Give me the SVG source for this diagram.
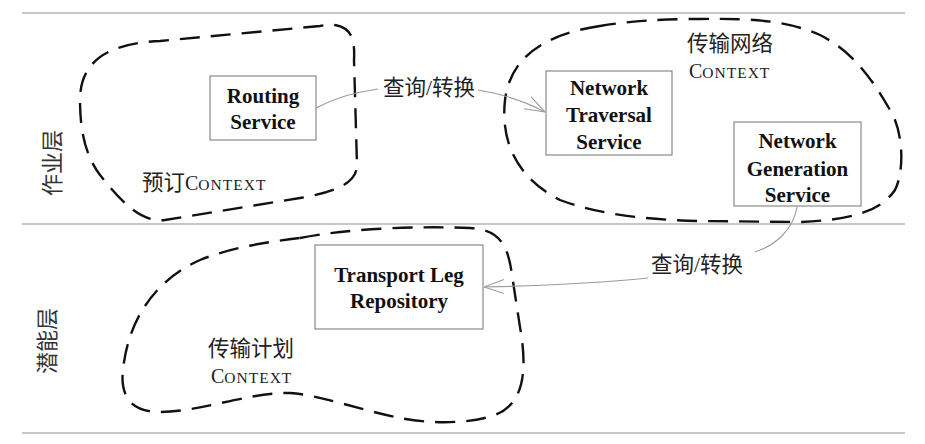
<svg xmlns="http://www.w3.org/2000/svg" width="925" height="444" viewBox="0 0 925 444">
<style>
.layer{stroke:#b5b5b5;stroke-width:1.5;fill:none}
.blob{fill:none;stroke:#111;stroke-width:2.4;stroke-dasharray:20 11;stroke-linecap:butt}
.box{fill:#fff;stroke:#8a8a8a;stroke-width:1.2}
.bt{font-family:"Liberation Serif",serif;font-weight:bold;font-size:21px;fill:#111;text-anchor:middle}
.cn{font-family:"Liberation Serif","Noto Sans CJK SC",serif;font-size:21.5px;fill:#222}
.ctx{font-family:"Liberation Serif",serif;fill:#222}
.lay{font-family:"Noto Sans CJK SC",sans-serif;font-size:22px;fill:#333;text-anchor:middle;dominant-baseline:central}
.conn{fill:none;stroke:#9a9a9a;stroke-width:1.1}
</style>
<defs>
<marker id="arr" viewBox="0 0 20 16" refX="20" refY="8" markerWidth="20" markerHeight="16" markerUnits="userSpaceOnUse" orient="auto">
<path d="M0,1 L20,8 L0,15" fill="none" stroke="#9a9a9a" stroke-width="1.1"/>
</marker>
</defs>
<g id="layers">
<line class="layer" x1="22" y1="13" x2="905" y2="13"/>
<line class="layer" x1="22" y1="224" x2="905" y2="224"/>
<line class="layer" x1="22" y1="433" x2="905" y2="433"/>
<text class="lay" transform="translate(50,163) rotate(-90)">作业层</text>
<text class="lay" transform="translate(45,341) rotate(-90)">潜能层</text>
</g>
<g id="ctx-booking">
<path class="blob" d="M335,25 C352,28 355,40 354,60 L357,165 C357,185 330,193 300,198 L165,220 C140,223 120,200 100,175 C85,155 80,130 80,100 C80,60 110,43 160,41 L320,26 C326,25 331,24 335,25 Z"/>
<text class="cn" x="142" y="190">预订<tspan class="ctx" font-size="20">C</tspan><tspan class="ctx" font-size="15.5" letter-spacing="1">ONTEXT</tspan></text>
</g>
<g id="ctx-network">
<path class="blob" d="M600,26 C540,35 510,60 505,100 C500,145 520,180 560,200 C600,215 650,220 700,221 L800,222 C850,220 880,212 895,190 C905,170 903,130 890,110 C870,75 850,50 820,35 C790,22 760,18 700,19 C660,19 630,21 600,26 Z"/>
<text class="cn" x="687" y="51">传输网络</text>
<text class="ctx" x="689" y="78"><tspan font-size="20">C</tspan><tspan font-size="15.5" letter-spacing="1">ONTEXT</tspan></text>
</g>
<g id="ctx-plan">
<path class="blob" d="M300,238 C350,228 420,226 470,228 C500,230 508,245 512,275 L522,340 C527,380 520,405 495,415 C470,424 430,424 400,418 C360,410 320,395 290,393 C250,392 200,412 160,412 C130,412 120,395 123,370 C128,320 155,280 200,260 C230,248 265,242 300,238 Z"/>
<text class="cn" x="208" y="356">传输计划</text>
<text class="ctx" x="211" y="383"><tspan font-size="20">C</tspan><tspan font-size="15.5" letter-spacing="1">ONTEXT</tspan></text>
</g>
<g id="connectors">
<path class="conn" d="M316,108 Q342,94 378,89"/>
<path class="conn" d="M478,90 Q515,96 545,112" marker-end="url(#arr)"/>
<text class="cn" x="383" y="95">查询/转换</text>
<path class="conn" d="M797,207 C793,230 776,245 755,252"/>
<path class="conn" d="M648,278 C600,283 530,286 484,287" marker-end="url(#arr)"/>
<text class="cn" x="651" y="272">查询/转换</text>
</g>
<g id="routing-service">
<rect class="box" x="210" y="76" width="106" height="64"/>
<text class="bt" x="263" y="103">Routing</text>
<text class="bt" x="263" y="129">Service</text>
</g>
<g id="network-traversal-service">
<rect class="box" x="546" y="71" width="126" height="84"/>
<text class="bt" x="609" y="95">Network</text>
<text class="bt" x="609" y="122">Traversal</text>
<text class="bt" x="609" y="149">Service</text>
</g>
<g id="network-generation-service">
<rect class="box" x="734" y="122" width="127" height="84"/>
<text class="bt" x="797.5" y="148">Network</text>
<text class="bt" x="797.5" y="176">Generation</text>
<text class="bt" x="797.5" y="202">Service</text>
</g>
<g id="transport-leg-repository">
<rect class="box" x="315" y="245" width="168" height="84"/>
<text class="bt" x="399" y="282">Transport Leg</text>
<text class="bt" x="399" y="308">Repository</text>
</g>
</svg>
